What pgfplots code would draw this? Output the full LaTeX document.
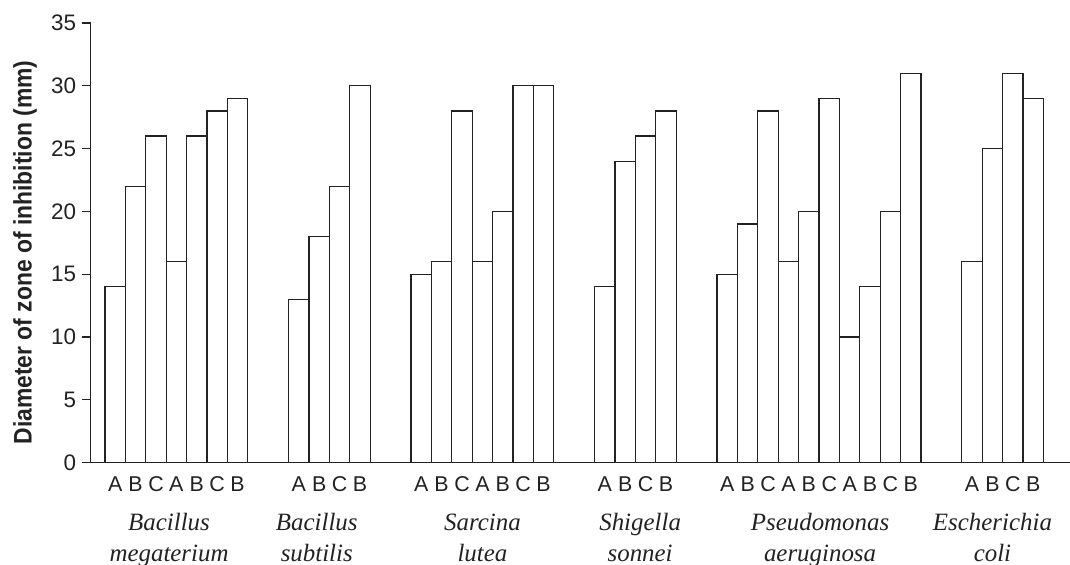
\documentclass[border=0pt]{standalone}
\usepackage{fontspec}
\setmainfont{Liberation Serif}
\setsansfont{Liberation Sans}
\newfontfamily\labfont[FakeStretch=0.9]{Liberation Sans}
\usepackage{pgfplots}
\pgfplotsset{compat=1.18}
\definecolor{ink}{HTML}{222222}
\begin{document}
\begin{tikzpicture}
\begin{axis}[
  at={(0,0)}, anchor=south west,
  scale only axis, width=979.3bp, height=439.7bp,
  xmin=-0.7, xmax=47.3, ymin=0, ymax=35,
  axis lines=left,
  axis line style={-, line width=1.2bp, draw=ink},
  clip=false,
  ytick={0,5,...,35},
  tick align=outside,
  major tick length=8.7bp,
  ytick style={line width=1.2bp, draw=ink},
  xtick style={draw=none},
  xtick=data,
  xticklabels={A,B,C,A,B,C,B,A,B,C,B,A,B,C,A,B,C,B,A,B,C,B,A,B,C,A,B,C,A,B,C,B,A,B,C,B},
  /pgf/number format/assume math mode=true,
  yticklabel style={font=\fontsize{22.5}{24}\sffamily, text=ink, xshift=-2.5bp},
  xticklabel style={font=\fontsize{21.5}{24}\sffamily, text=ink, yshift=-1.5bp},
]
\addplot[ybar, bar width=1, bar shift=0pt, fill=white, draw=ink, line width=1.2bp] table {
x y
0.5 14
1.5 22
2.5 26
3.5 16
4.5 26
5.5 28
6.5 29
9.5 13
10.5 18
11.5 22
12.5 30
15.5 15
16.5 16
17.5 28
18.5 16
19.5 20
20.5 30
21.5 30
24.5 14
25.5 24
26.5 26
27.5 28
30.5 15
31.5 19
32.5 28
33.5 16
34.5 20
35.5 29
36.5 10
37.5 14
38.5 20
39.5 31
42.5 16
43.5 25
44.5 31
45.5 29
};
\def\spn#1#2#3{%
  \node[font=\fontsize{25}{30}\itshape, text=ink, anchor=base] at ([yshift=-68bp]axis cs:#1,0) {#2};
  \node[font=\fontsize{25}{30}\itshape, text=ink, anchor=base] at ([yshift=-99bp]axis cs:#1,0) {#3};}
\spn{3.14}{Bacillus}{megaterium}
\spn{10.38}{Bacillus}{subtilis}
\spn{18.5}{Sarcina}{lutea}
\spn{26.23}{Shigella}{sonnei}
\spn{35.05}{Pseudomonas}{aeruginosa}
\spn{43.5}{Escherichia}{coli}
\end{axis}
\node[rotate=90, anchor=base, font=\fontsize{25.5}{28}\labfont\bfseries, text=ink] at (-59bp,210.2bp) {Diameter of zone of inhibition (mm)};
\pgfresetboundingbox
\path (-90.7bp,-102.3bp) rectangle (979.3bp,462.7bp);
\end{tikzpicture}
\end{document}
